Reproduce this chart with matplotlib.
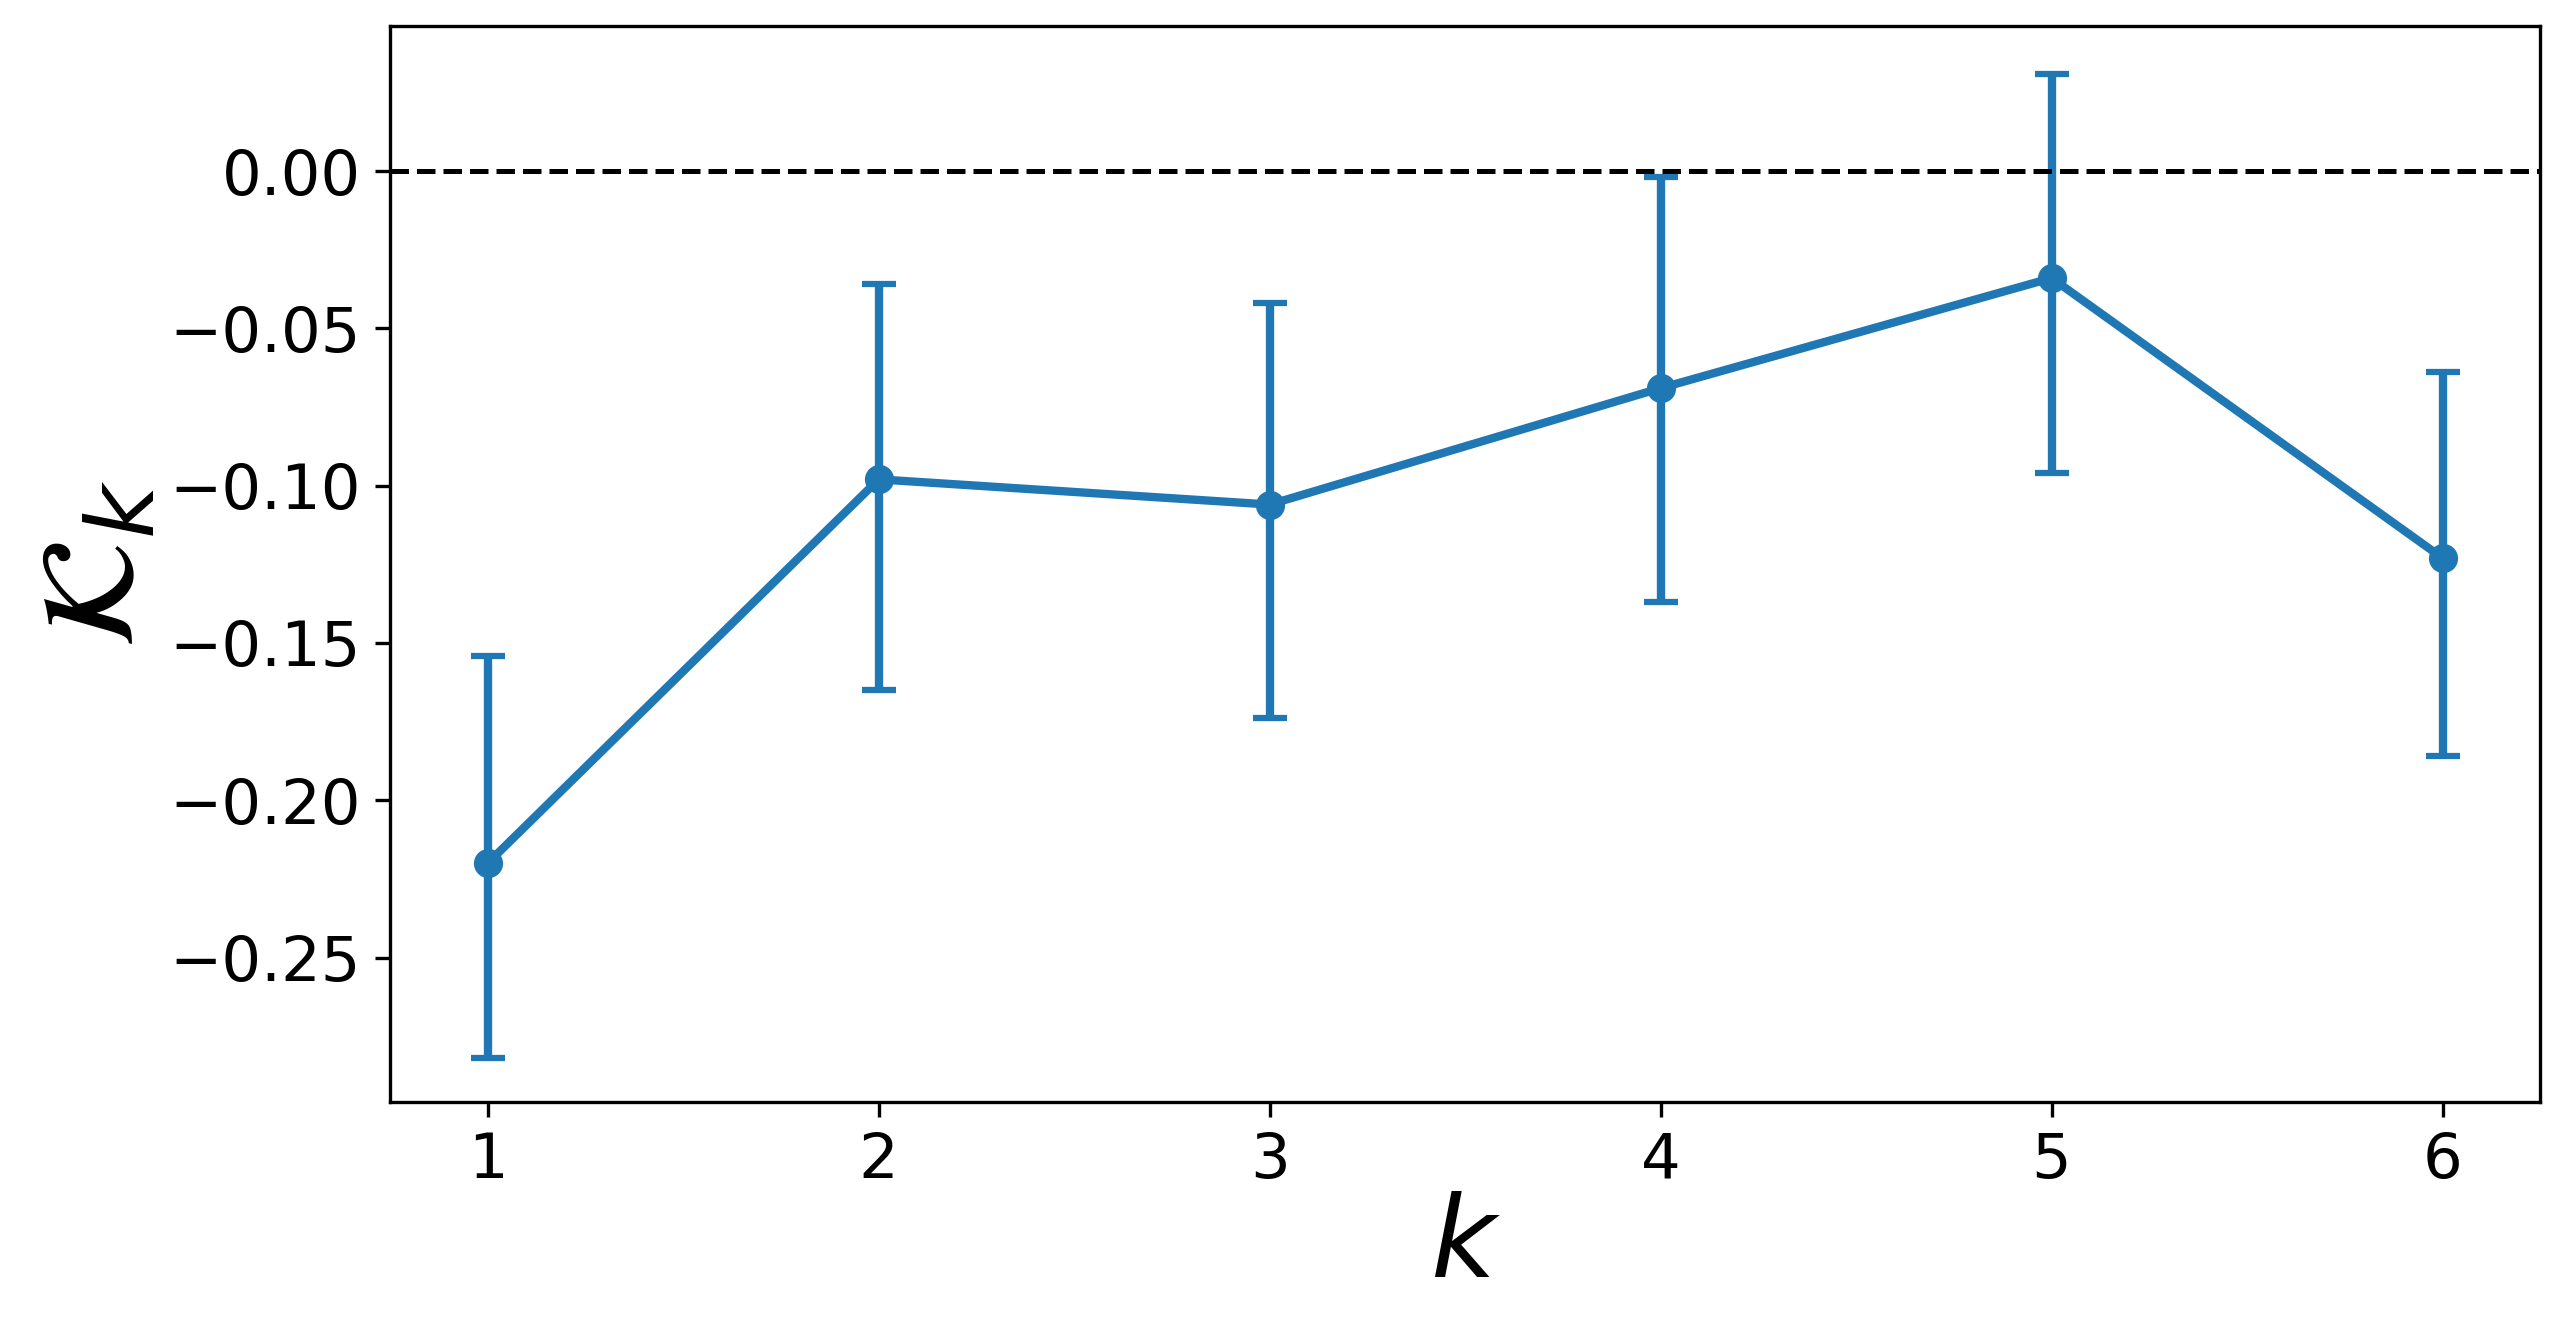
import numpy as np
import matplotlib.pyplot as plt

k = [1, 2, 3, 4, 5, 6]
kappa = [-0.220, -0.098, -0.106, -0.069, -0.034, -0.123]
upper = [-0.154, -0.036, -0.042, -0.002, 0.031, -0.064]
lower = [-0.282, -0.165, -0.174, -0.137, -0.096, -0.186]

kappa = np.array(kappa)
yerr = [kappa - np.array(lower), np.array(upper) - kappa]

fig, ax = plt.subplots(figsize=(8.553, 4.4), dpi=300)
ax.errorbar(k, kappa, yerr=yerr, fmt='-o', color='#1f77b4', lw=2,
            markersize=6, capsize=4, capthick=1.5, elinewidth=2)
ax.axhline(0, color='black', ls='--', lw=1.2)

ax.set_xticks(k)
ax.set_ylim(-0.296, 0.046)
ax.tick_params(labelsize=15)
ax.set_xlabel(r'$k$', fontsize=27, labelpad=0)
ax.set_ylabel(r'$\mathcal{K}_k$', fontsize=32, labelpad=2)
fig.subplots_adjust(left=0.152, right=0.99, top=0.98, bottom=0.165)

fig.savefig('out.png')
